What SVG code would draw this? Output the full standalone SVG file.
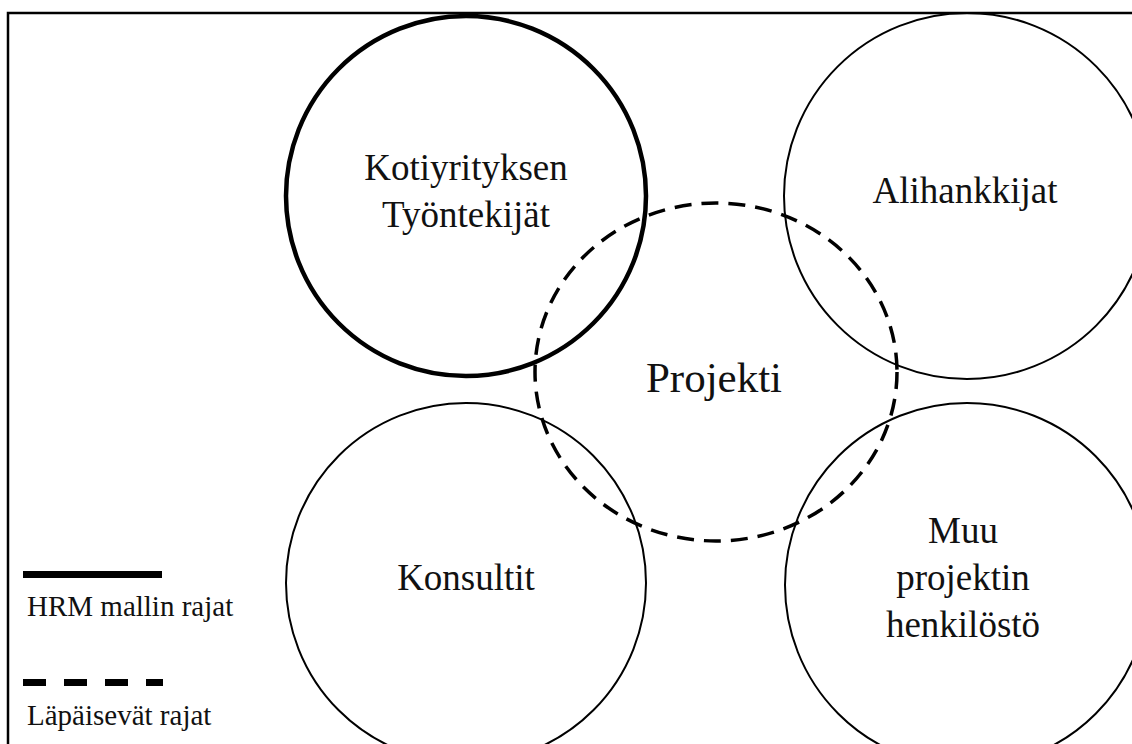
<svg xmlns="http://www.w3.org/2000/svg" width="1132" height="744" viewBox="0 0 1132 744">
  <style>
    .frame { fill: none; stroke: #000; stroke-width: 2.5; }
    .ring { fill: none; stroke: #000; stroke-width: 2; }
    .ring-bold { fill: none; stroke: #000; stroke-width: 4.5; }
    .ring-dash { fill: none; stroke: #000; stroke-width: 3.5; stroke-dasharray: 17 10; }
    .lbl { font-family: "Liberation Serif", "Times New Roman", serif; font-size: 37px; fill: #111; text-anchor: middle; }
    .lbl-big { font-size: 43px; }
    .legend { font-family: "Liberation Serif", "Times New Roman", serif; font-size: 29px; fill: #111; }
  </style>

  <rect width="1132" height="744" fill="#fff"/>
  <!-- outer frame (extends past right and bottom edges) -->
  <rect class="frame" x="8" y="13" width="1140" height="760"/>

  <g id="kotiyritys">
    <circle class="ring-bold" cx="466" cy="196" r="180"/>
    <text class="lbl" x="466" y="180">Kotiyrityksen</text>
    <text class="lbl" x="466" y="227">Työntekijät</text>
  </g>

  <g id="alihankkijat">
    <circle class="ring" cx="967" cy="196" r="183"/>
    <text class="lbl" x="965" y="203">Alihankkijat</text>
  </g>

  <g id="konsultit">
    <circle class="ring" cx="466" cy="583" r="180"/>
    <text class="lbl" x="466" y="590">Konsultit</text>
  </g>

  <g id="muu-henkilosto">
    <circle class="ring" cx="967" cy="585" r="182"/>
    <text class="lbl" x="963" y="543">Muu</text>
    <text class="lbl" x="963" y="590">projektin</text>
    <text class="lbl" x="963" y="637">henkilöstö</text>
  </g>

  <g id="projekti">
    <ellipse class="ring-dash" cx="716" cy="372" rx="181" ry="169"/>
    <text class="lbl lbl-big" x="714" y="392">Projekti</text>
  </g>

  <g id="legend">
    <line x1="23" y1="574.5" x2="162" y2="574.5" stroke="#000" stroke-width="7"/>
    <text class="legend" x="27" y="616">HRM mallin rajat</text>
    <line x1="23" y1="682.5" x2="163" y2="682.5" stroke="#000" stroke-width="7" stroke-dasharray="23 18"/>
    <text class="legend" x="27" y="725">Läpäisevät rajat</text>
  </g>
</svg>
